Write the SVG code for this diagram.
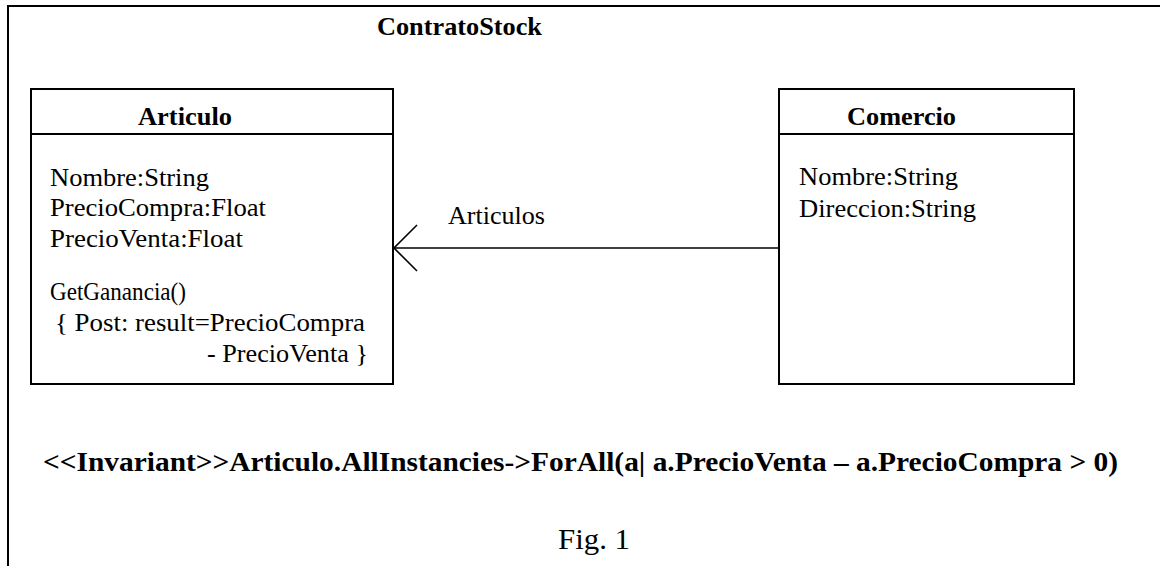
<svg xmlns="http://www.w3.org/2000/svg" width="1160" height="566" viewBox="0 0 1160 566">
<style>
.t{font-family:"Liberation Serif","Times New Roman",serif;fill:#000}
.r{font-size:25px}
.b{font-size:26px;font-weight:bold}
.box{fill:#fff;stroke:#000;stroke-width:2}
.ln{stroke:#000;stroke-width:2;fill:none}
.cn{stroke:#000;stroke-width:1.6;fill:none}
</style>
<rect width="1160" height="566" fill="#fff"/>
<g id="frame">
<path class="ln" d="M8,566 V6 H1160"/>
<text class="t b" x="377" y="35" textLength="165" lengthAdjust="spacingAndGlyphs">ContratoStock</text>
</g>
<g id="connectors">
<line class="cn" x1="394" y1="248" x2="779" y2="248"/>
<path class="cn" d="M417,225 L394,248 L417,271"/>
<text class="t r" x="448" y="224" textLength="97" lengthAdjust="spacingAndGlyphs">Articulos</text>
</g>
<g id="articulo">
<rect class="box" x="31" y="89" width="362" height="295"/>
<line class="ln" x1="31" y1="134" x2="393" y2="134"/>
<text class="t b" x="138" y="125" textLength="94" lengthAdjust="spacingAndGlyphs">Articulo</text>
<text class="t r" x="50" y="186" textLength="159" lengthAdjust="spacingAndGlyphs">Nombre:String</text>
<text class="t r" x="50" y="216" textLength="216" lengthAdjust="spacingAndGlyphs">PrecioCompra:Float</text>
<text class="t r" x="50" y="247" textLength="193" lengthAdjust="spacingAndGlyphs">PrecioVenta:Float</text>
<text class="t r" x="50" y="300" textLength="136" lengthAdjust="spacingAndGlyphs">GetGanancia()</text>
<text class="t r" x="55" y="331" textLength="310" lengthAdjust="spacingAndGlyphs">{ Post: result=PrecioCompra</text>
<text class="t r" x="207" y="362" textLength="161" lengthAdjust="spacingAndGlyphs">- PrecioVenta }</text>
</g>
<g id="comercio">
<rect class="box" x="779" y="89" width="295" height="295"/>
<line class="ln" x1="779" y1="134" x2="1074" y2="134"/>
<text class="t b" x="847" y="125" textLength="109" lengthAdjust="spacingAndGlyphs">Comercio</text>
<text class="t r" x="799" y="185" textLength="159" lengthAdjust="spacingAndGlyphs">Nombre:String</text>
<text class="t r" x="799" y="217" textLength="177" lengthAdjust="spacingAndGlyphs">Direccion:String</text>
</g>
<g id="invariant">
<text class="t" x="43" y="471" font-size="28" font-weight="bold" textLength="1075" lengthAdjust="spacingAndGlyphs">&lt;&lt;Invariant&gt;&gt;Articulo.AllInstancies-&gt;ForAll(a| a.PrecioVenta – a.PrecioCompra &gt; 0)</text>
</g>
<g id="caption">
<text class="t" x="558" y="549" font-size="30" textLength="72" lengthAdjust="spacingAndGlyphs">Fig. 1</text>
</g>
</svg>
